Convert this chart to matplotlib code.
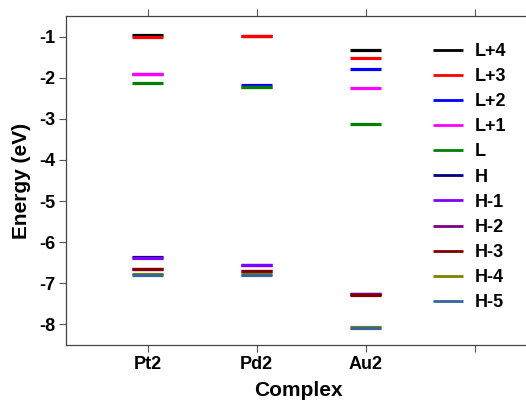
import matplotlib
matplotlib.use("Agg")
import matplotlib.pyplot as plt

plt.rcParams['font.family'] = ['Liberation Sans', 'DejaVu Sans']
plt.rcParams['axes.unicode_minus'] = False

complexes = ["Pt2", "Pd2", "Au2"]
orbitals = ["L+4", "L+3", "L+2", "L+1", "L", "H", "H-1", "H-2", "H-3", "H-4", "H-5"]
colors = ["#000000", "#FF0000", "#0000FF", "#FF00FF", "#008000", "#000080",
          "#8000FF", "#800080", "#800000", "#808000", "#336699"]

L4 = [-0.96, -0.99, -1.33]
L3 = [-1.02, -0.98, -1.53]
L2 = [-1.90, -2.17, -1.80]
L1 = [-1.92, -2.22, -2.24]
L0 = [-2.12, -2.23, -3.12]
H0 = [-6.37, -6.56, -7.26]
H1 = [-6.38, -6.56, -7.26]
H2 = [-6.65, -6.69, -7.27]
H3 = [-6.66, -6.70, -7.28]
H4 = [-6.77, -6.78, -8.06]
H5 = [-6.79, -6.80, -8.08]
energies = [L4, L3, L2, L1, L0, H0, H1, H2, H3, H4, H5]

W, Hpx = 526, 401
fig = plt.figure(figsize=(W / 100, Hpx / 100), dpi=100)
ax = fig.add_axes([66 / W, 1 - 345 / Hpx, 480 / W, 329 / Hpx])

xpos = [1, 2, 3]
half = 0.14
for name, col, vals in zip(orbitals, colors, energies):
    ax.hlines(vals, [x - half for x in xpos], [x + half for x in xpos],
              colors=col, linewidth=2.3, label=name)

ax.set_xlim(0.25, 0.25 + 480 / 109)
ax.set_ylim(-8.5, -0.5)
ax.set_xticks([1, 2, 3, 4])
ax.set_xticklabels(complexes + [""])
ax.set_yticks([-1, -2, -3, -4, -5, -6, -7, -8])
ax.tick_params(axis='both', labelsize=13, width=0.8, length=5, color='#555555', pad=3)
ax.tick_params(axis='x', top=True, direction='out')
for lab in ax.get_xticklabels() + ax.get_yticklabels():
    lab.set_fontweight('bold')
for s in ax.spines.values():
    s.set_color('#444444')
    s.set_linewidth(0.9)

ax.set_ylabel("Energy (eV)", fontsize=15, fontweight='bold')
ax.set_xlabel("Complex", fontsize=15, fontweight='bold')
ax.yaxis.set_label_coords((22 - 66) / 480, 0.5)
ax.xaxis.set_label_coords((298 - 66) / 480, (345 - 390) / 329)
ax.xaxis.label.set_verticalalignment('center')
ax.yaxis.label.set_verticalalignment('center')

leg = fig.legend(loc='upper left', bbox_to_anchor=(433 / W, 1 - 43 / Hpx),
                 frameon=False, borderpad=0, borderaxespad=0,
                 prop={'weight': 'bold', 'size': 13},
                 handlelength=1.66, handletextpad=0.67, labelspacing=0.45)
for h in leg.get_lines():
    h.set_linewidth(2.0)

fig.savefig("out.png", dpi=100)
